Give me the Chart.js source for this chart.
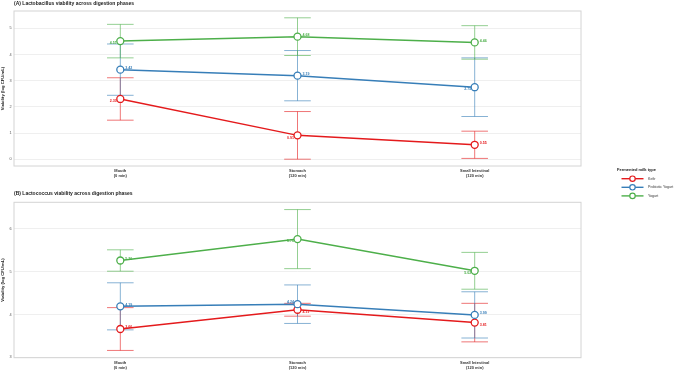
<!DOCTYPE html>
<html><head><meta charset="utf-8">
<script src="https://cdn.jsdelivr.net/npm/chart.js@4.4.1/dist/chart.umd.min.js"></script>
<style>
html,body{margin:0;padding:0;background:#fff;width:677px;height:370px;overflow:hidden}
canvas{position:absolute;left:0;top:0}
</style></head><body>
<canvas id="chartA" width="677" height="370"></canvas>
<canvas id="chartB" width="677" height="370"></canvas>
<script>
// ---- data ----
const phases = [["Mouth","(0 min)"],["Stomach","(120 min)"],["Small Intestinal","(120 min)"]];
const milkTypes = ["Kefir","Probiotic Yogurt","Yogurt"];
const yTicksA = [0,1,2,3,4,5];
const yTicksB = [3,4,5,6];
const titleA = "(A) Lactobacillus viability across digestion phases";
const titleB = "(B) Lactococcus viability across digestion phases";
const yTitle = "Viability (log CFU/mL)";
const legendTitle = "Fermented milk type";

// Panel A: Lactobacillus (mean, error)
const lactoKefir = [2.30, 0.91, 0.55];
const lactoKefirErr = [0.81, 0.91, 0.52];
const lactoProbiotic = [3.42, 3.19, 2.75];
const lactoProbioticErr = [0.98, 0.96, 1.12];
const lactoYogurt = [4.51, 4.68, 4.46];
const lactoYogurtErr = [0.64, 0.72, 0.64];

// Panel B: Lactococcus (mean, error)
const coccusKefir = [3.66, 4.11, 3.81];
const coccusKefirErr = [0.50, 0.15, 0.45];
const coccusProbiotic = [4.19, 4.24, 3.99];
const coccusProbioticErr = [0.55, 0.45, 0.54];
const coccusYogurt = [5.26, 5.76, 5.02];
const coccusYogurtErr = [0.25, 0.69, 0.43];

// ---- styling ----
const colors = ["#E41A1C","#377EB8","#4DAF4A"];
const errColors = ["rgba(228,26,28,0.6)","rgba(55,126,184,0.6)","rgba(77,175,74,0.6)"];
const FONT = "'Liberation Sans', Arial, Helvetica, sans-serif";

function pts(arr){ return arr.map((v,i)=>({x:i,y:v})); }

function makeDatasets(series, errs){
  return series.map((s,k)=>({
    label: milkTypes[k],
    data: pts(s),
    err: errs[k],
    borderColor: colors[k],
    backgroundColor: "#ffffff",
    borderWidth: 1.5,
    pointRadius: 3.5,
    pointBorderWidth: 1.3,
    pointBackgroundColor: "#ffffff",
    pointBorderColor: colors[k],
    tension: 0,
    order: 2-k
  }));
}

const errorBarPlugin = {
  id: 'errbars',
  beforeDatasetsDraw(chart){
    const ctx = chart.ctx, ys = chart.scales.y, xs = chart.scales.x;
    const cap = xs.getPixelForValue(0.075) - xs.getPixelForValue(0);
    ctx.save();
    chart.data.datasets.forEach((ds,k)=>{
      ctx.strokeStyle = errColors[k];
      ctx.lineWidth = 1;
      ds.data.forEach((p,i)=>{
        const x = xs.getPixelForValue(p.x);
        const hi = ys.getPixelForValue(p.y + ds.err[i]);
        const lo = ys.getPixelForValue(Math.max(0, p.y - ds.err[i]));
        ctx.beginPath();
        ctx.moveTo(x, hi); ctx.lineTo(x, lo);
        ctx.moveTo(x-cap, hi); ctx.lineTo(x+cap, hi);
        ctx.moveTo(x-cap, lo); ctx.lineTo(x+cap, lo);
        ctx.stroke();
      });
    });
    ctx.restore();
  }
};

const framePlugin = {
  id: 'frame',
  afterDraw(chart, args, opts){
    const ctx = chart.ctx, a = chart.chartArea;
    ctx.save();
    ctx.strokeStyle = "#d4d4d4";
    ctx.lineWidth = 1;
    ctx.strokeRect(a.left, a.top, a.right-a.left, a.bottom-a.top);
    ctx.fillStyle = "#1a1a1a";
    ctx.font = "bold 5px " + FONT;
    ctx.textBaseline = "middle";
    ctx.textAlign = "left";
    ctx.fillText(opts.title, a.left, a.top - opts.titleGap);
    ctx.restore();
  }
};

const valueLabelPlugin = {
  id: 'vlabels',
  afterDatasetsDraw(chart, args, opts){
    const ctx = chart.ctx;
    ctx.save();
    ctx.font = "bold 3.6px " + FONT;
    ctx.textBaseline = "middle";
    chart.data.datasets.forEach((ds,k)=>{
      const meta = chart.getDatasetMeta(k);
      meta.data.forEach((el,i)=>{
        const side = opts.sides[k][i];
        ctx.fillStyle = colors[k];
        let x = el.x, y = el.y;
        if (side[0]==='r'){ ctx.textAlign='left'; x += 5; } else { ctx.textAlign='right'; x -= 3.5; }
        if (side[1]==='u'){ y -= 1.8; } else { y += 2.2; }
        ctx.fillText(ds.data[i].y.toFixed(2), x, y);
      });
    });
    ctx.restore();
  }
};

const legendPlugin = {
  id: 'customLegend',
  afterDraw(chart, args, opts){
    if(!opts.show) return;
    const ctx = chart.ctx;
    ctx.save();
    ctx.fillStyle = "#1a1a1a";
    ctx.font = "bold 4px " + FONT;
    ctx.textBaseline = "middle";
    ctx.textAlign = "left";
    ctx.fillText(legendTitle, 617, 170);
    const rows = [178.7, 187.3, 195.9];
    milkTypes.forEach((m,k)=>{
      const y = rows[k];
      ctx.strokeStyle = colors[k];
      ctx.lineWidth = 1.4;
      ctx.beginPath(); ctx.moveTo(621.5,y); ctx.lineTo(643.5,y); ctx.stroke();
      ctx.beginPath(); ctx.arc(632.5,y,2.7,0,Math.PI*2);
      ctx.fillStyle="#fff"; ctx.fill(); ctx.lineWidth=1.2; ctx.stroke();
      ctx.fillStyle = "#333";
      ctx.font = "3.6px " + FONT;
      ctx.fillText(m, 648, y);
    });
    ctx.restore();
  }
};

function makeChart(id, series, errs, yMin, yMax, yTicks, title, sides, padTop, padBottom, showLegend){
  return new Chart(document.getElementById(id), {
    type: 'line',
    data: { datasets: makeDatasets(series, errs) },
    plugins: [errorBarPlugin, framePlugin, valueLabelPlugin, legendPlugin],
    options: {
      responsive: false,
      animation: false,
      layout: { padding: { left: 0, right: 96, top: padTop, bottom: padBottom } },
      plugins: {
        legend: { display: false },
        tooltip: { enabled: false },
        frame: { title: title, titleGap: padTop > 100 ? 8.5 : 7.5 },
        vlabels: { sides: sides },
        customLegend: { show: showLegend }
      },
      scales: {
        x: {
          type: 'linear', min: -0.6, max: 2.6,
          afterFit(s){ s.height = 12; },
          grid: { display: false, drawTicks: false },
          border: { display: false },
          ticks: {
            stepSize: 1, includeBounds: false, autoSkip: false, maxRotation: 0, padding: 2.5,
            color: "#333", font: { family: FONT, size: 4, weight: 'bold', lineHeight: 1.25 },
            callback: v => Number.isInteger(v) && phases[v] ? phases[v] : ''
          }
        },
        y: {
          min: yMin, max: yMax,
          afterFit(s){ s.width = 14; },
          afterBuildTicks(s){ s.ticks = yTicks.map(v=>({value:v})); },
          grid: { color: "#ebebeb", lineWidth: 0.8, drawTicks: false },
          border: { display: false },
          ticks: { padding: 2.5, color: "#555", font: { family: FONT, size: 3.8 } },
          title: { display: true, text: yTitle, color: "#1a1a1a", padding: { top: 0.5, bottom: 0 },
                   font: { family: FONT, size: 4.2, weight: 'bold' } }
        }
      }
    }
  });
}

makeChart('chartA', [lactoKefir, lactoProbiotic, lactoYogurt],
  [lactoKefirErr, lactoProbioticErr, lactoYogurtErr],
  -0.26, 5.66, yTicksA, titleA,
  [['lb','lb','ru'], ['ru','ru','lb'], ['lb','ru','ru']],
  11, 192, true);

makeChart('chartB', [coccusKefir, coccusProbiotic, coccusYogurt],
  [coccusKefirErr, coccusProbioticErr, coccusYogurtErr],
  2.99, 6.62, yTicksB, titleB,
  [['ru','rb','rb'], ['ru','lu','ru'], ['ru','lb','lb']],
  202.3, 0.3, false);
</script>
</body></html>
